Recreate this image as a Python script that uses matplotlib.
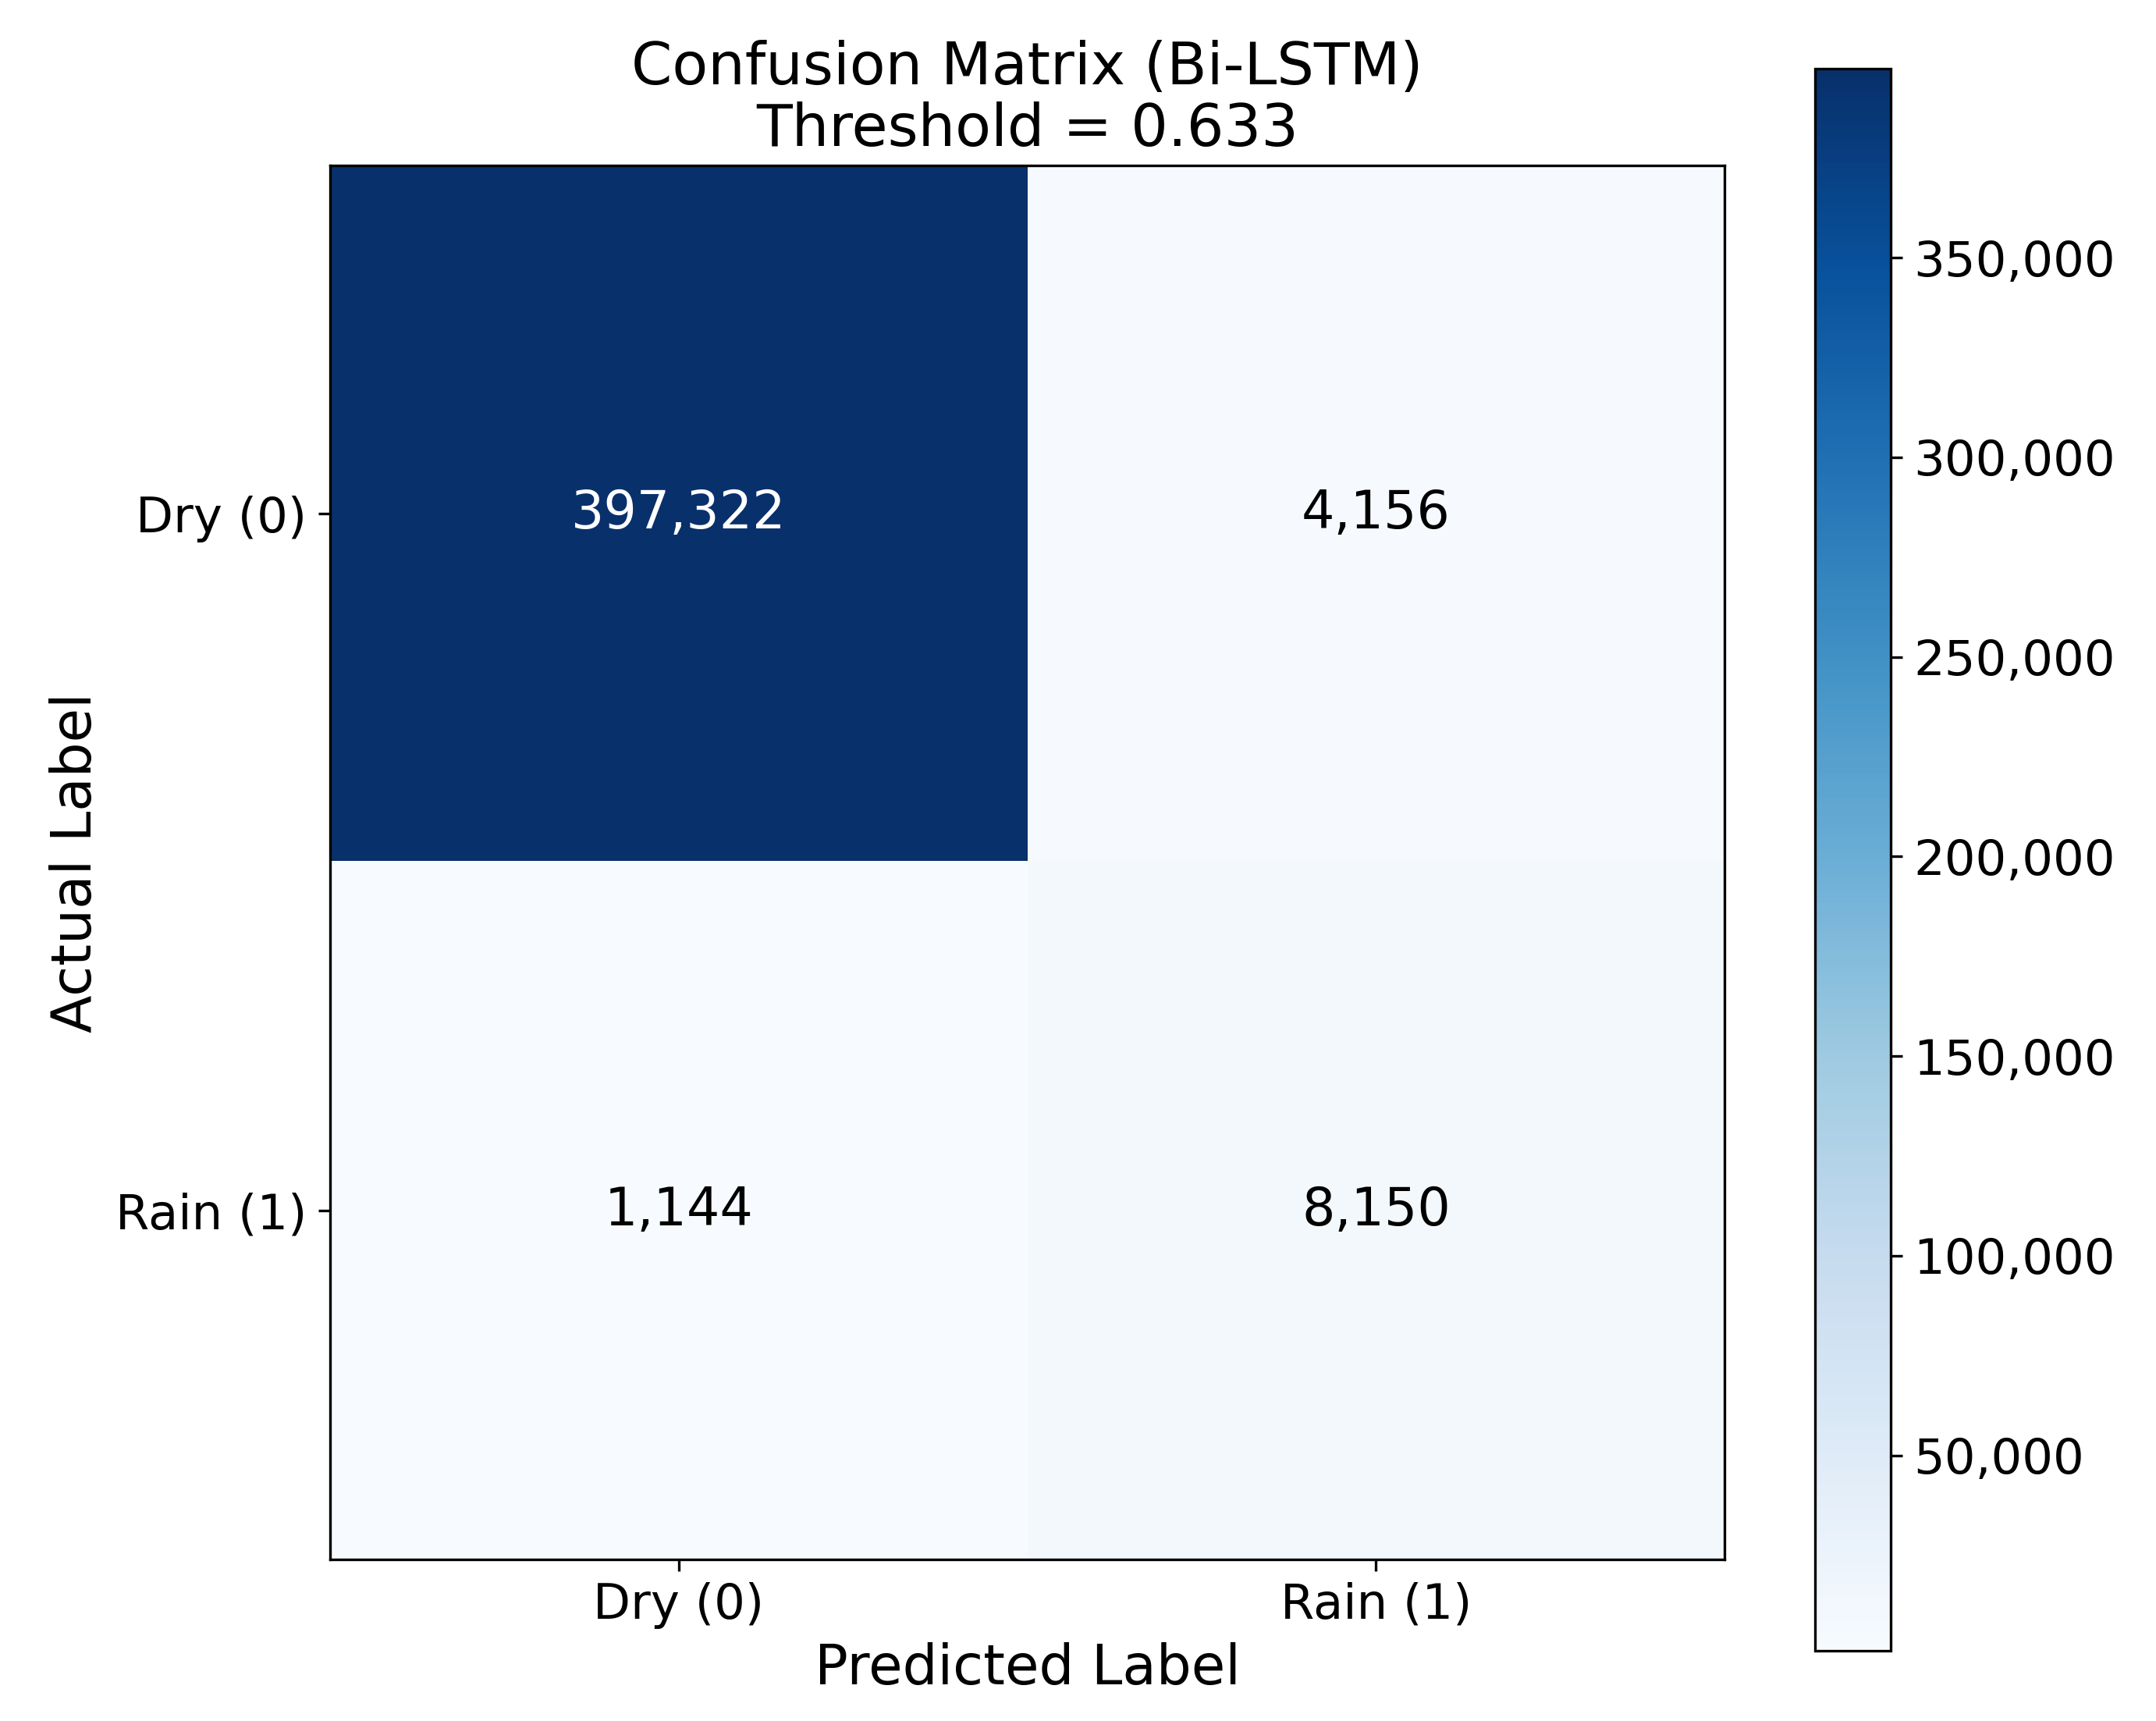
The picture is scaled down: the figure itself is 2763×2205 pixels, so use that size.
"""
Confusion matrix for the Bi-LSTM rain classifier at the tuned threshold.
"""

import numpy as np
import matplotlib.pyplot as plt
from matplotlib.ticker import FuncFormatter

# ==========================
# DATA
# ==========================

labels = ["Dry (0)", "Rain (1)"]
cm = np.array([
    [397322, 4156],
    [1144, 8150],
])
threshold = 0.633

# ==========================
# CHART
# ==========================

fig = plt.figure(figsize=(9.21, 7.35), dpi=300)
ax = fig.add_axes([0.153, 0.094, 0.647, 0.81])
cax = fig.add_axes([0.842, 0.041, 0.035, 0.919])

im = ax.imshow(cm, cmap="Blues", aspect="auto")

cbar = fig.colorbar(im, cax=cax)
cbar.ax.yaxis.set_major_formatter(FuncFormatter(lambda v, p: f"{int(v):,}"))
cbar.ax.tick_params(labelsize=15)

ax.set_xticks([0, 1])
ax.set_yticks([0, 1])
ax.set_xticklabels(labels, fontsize=15)
ax.set_yticklabels(labels, fontsize=15)

ax.set_xlabel("Predicted Label", fontsize=17)
ax.set_ylabel("Actual Label", fontsize=17)
ax.set_title(f"Confusion Matrix (Bi-LSTM)\nThreshold = {threshold}", fontsize=18, linespacing=1.1)

# Counts in each cell
thresh = cm.max() / 2
for i in range(cm.shape[0]):
    for j in range(cm.shape[1]):
        ax.text(
            j, i, f"{cm[i, j]:,}",
            ha="center", va="center",
            fontsize=16,
            color="white" if cm[i, j] > thresh else "black"
        )

plt.savefig("out.png", dpi=300)
